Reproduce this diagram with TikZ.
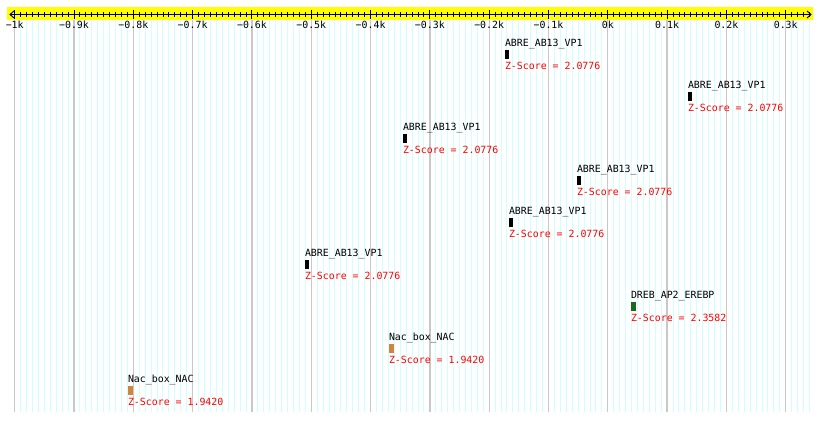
\documentclass[tikz,border=0pt]{standalone}
\usepackage{fontspec}
\setmonofont{DejaVu Sans Mono}
\definecolor{gridcyan}{RGB}{208,255,255}
\definecolor{gridgray}{RGB}{200,200,200}
\definecolor{axisyellow}{RGB}{255,255,0}
\definecolor{zred}{RGB}{255,0,0}
\definecolor{drebgreen}{RGB}{28,104,28}
\definecolor{nacorange}{RGB}{205,133,63}
\newcommand\motifmark[7]{%
  \node[barbox, fill=#4, minimum width=#5pt, anchor=north west] (#1bar) at (#2,#3) {};
  \node[flabel] (#1lab) at (#2,#3-4) {#6};
  \node[zlabel] (#1z) at (#2,#3+19.5) {Z-Score = #7};
}
\begin{document}
\begin{tikzpicture}[x=1pt,y=-1pt,
  mono/.style={font=\fontsize{9.9}{10}\selectfont\ttfamily, inner sep=0pt, outer sep=0pt},
  flabel/.style={mono, anchor=base west, text=black},
  zlabel/.style={mono, anchor=base west, text=zred},
  ticklabel/.style={mono, anchor=base, text=black},
  barbox/.style={rectangle, draw=none, inner sep=0pt, outer sep=0pt, minimum height=9.3pt},
  cyanline/.style={gridcyan, line width=1pt},
  grayline/.style={gridgray, line width=1.3pt},
  axisline/.style={black, line width=0.9pt}]
\useasboundingbox (0,0) rectangle (820,421);
\fill[white] (0,0) rectangle (820,421);
% grid
\foreach \v in {-100,...,34} {
  \pgfmathsetmacro\xx{607.8+5.931*\v}
  \draw[cyanline] (\xx,20) -- (\xx,412);
}
\foreach \v in {-10,...,3} {
  \pgfmathsetmacro\xx{607.8+59.31*\v}
  \draw[grayline] (\xx,20) -- (\xx,412);
}
% axis band
\fill[axisyellow] (7,7) rectangle (813,20);
\coordinate (axL) at (10,14.5);
\coordinate (axR) at (811,14.5);
\draw[axisline] (axL) -- (axR);
\draw[axisline] (14,11) -- (axL) -- (14,18);
\draw[axisline] (807,11) -- (axR) -- (807,18);
\foreach \v in {-100,...,34} {
  \pgfmathsetmacro\xx{607.8+5.931*\v}
  \draw[axisline] (\xx,12) -- (\xx,17);
}
\foreach \v/\t in {-10/−1k,-9/−0.9k,-8/−0.8k,-7/−0.7k,-6/−0.6k,-5/−0.5k,-4/−0.4k,-3/−0.3k,-2/−0.2k,-1/−0.1k,0/0k,1/0.1k,2/0.2k,3/0.3k} {
  \pgfmathsetmacro\xx{607.8+59.31*\v}
  \draw[axisline] (\xx,10) -- (\xx,19);
  \node[ticklabel] (tl\v) at (\xx,28.6) {\t};
}
% motifs
\motifmark{fa}{505}{50}{black}{4}{ABRE\_AB13\_VP1}{2.0776}
\motifmark{fb}{688}{92}{black}{4}{ABRE\_AB13\_VP1}{2.0776}
\motifmark{fc}{403}{134}{black}{4}{ABRE\_AB13\_VP1}{2.0776}
\motifmark{fd}{577}{176}{black}{4}{ABRE\_AB13\_VP1}{2.0776}
\motifmark{fe}{509}{218}{black}{4}{ABRE\_AB13\_VP1}{2.0776}
\motifmark{ff}{305}{260}{black}{4}{ABRE\_AB13\_VP1}{2.0776}
\motifmark{fg}{631}{302}{drebgreen}{4.7}{DREB\_AP2\_EREBP}{2.3582}
\motifmark{fh}{389}{344}{nacorange}{4.5}{Nac\_box\_NAC}{1.9420}
\motifmark{fi}{128}{386}{nacorange}{4.5}{Nac\_box\_NAC}{1.9420}
\end{tikzpicture}
\end{document}
